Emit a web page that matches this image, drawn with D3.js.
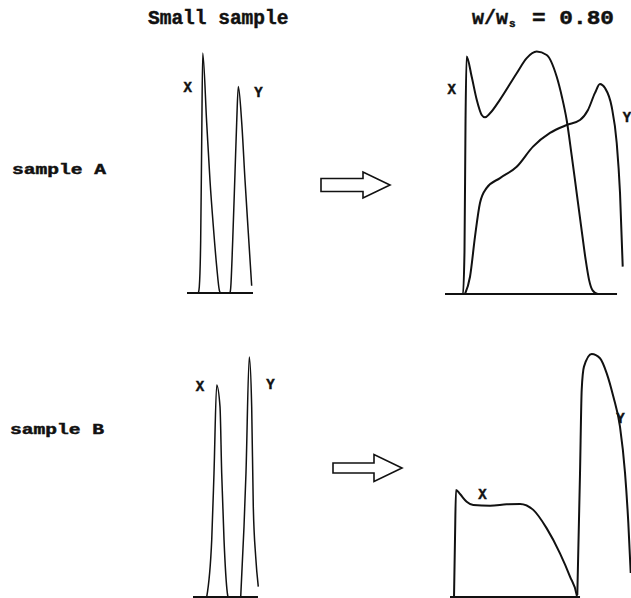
<!DOCTYPE html>
<html>
<head>
<meta charset="utf-8">
<script src="https://cdn.jsdelivr.net/npm/d3@7"></script>
<style>
  html, body { margin: 0; padding: 0; background: #fff; }
  svg { display: block; }
  .mono { font-family: "Courier New", "Liberation Mono", monospace; font-weight: bold; fill: #111; stroke: #111; stroke-width: 0.45; }
</style>
</head>
<body>
<svg id="chart" width="631" height="598"></svg>
<script>
// Elution profiles: [time, detector signal (% of panel full scale)]
const smallA_X = [[1.9,0],[2.05,2.6],[2.28,22],[2.45,63],[2.62,100],[3.28,71],[3.83,47],[4.38,28],[4.95,11],[5.4,1],[5.6,0]];
const smallA_Y = [[7.17,0],[7.28,2],[7.62,22],[8.0,50],[8.28,71],[8.55,86],[9.12,71],[9.67,47],[10.22,25],[10.78,3]];

const largeA_X = [[0,0],[3,0],[3.25,18],[3.42,72],[3.6,99],[4.45,90.5],[5.28,81],[6.12,74.6],[6.67,73.6],[7.5,75.3],[9.17,81],[11.95,92],[13.62,98.3],[15.28,101],[16.95,99.6],[18.62,90.5],[19.5,82],[20.28,72.5],[21.1,58],[21.9,43],[22.7,28],[23.4,15],[24.0,6],[24.6,1.5],[25.5,0],[28.67,0]];
const largeA_Y = [[3.33,0],[4.17,7.2],[5,23.9],[5.83,37.9],[6.95,44.2],[9.17,48.3],[11.95,53],[14.67,61.4],[17.5,67.1],[20.28,70.4],[22.5,72.5],[23.83,76.7],[25,83.8],[25.83,87.5],[26.67,85.8],[27.78,78],[28.62,62.9],[29.17,42.1],[29.62,11.4]];

const smallB_X = [[2.28,0],[3.12,23.8],[3.5,51.7],[3.95,88.3],[4.5,79.3],[4.78,51.7],[5.17,23.8],[5.72,1.7],[5.83,0]];
const smallB_Y = [[7.95,0],[8.5,29.3],[8.83,51.7],[9.38,100],[9.78,79.3],[10.05,37.6],[10.45,16.8],[10.88,4.3]];

const largeB_X = [[0.67,0],[0.83,23.8],[1.0,44.6],[1.67,42.9],[2.78,39.7],[3.88,38.3],[6.67,38],[9.45,38.6],[11.67,38.8],[13.88,36.3],[16.12,28.6],[18.33,18.2],[20,8.5],[21.12,0.8],[21.17,0]];
const largeB_Y = [[21.22,0.8],[21.67,51.7],[21.95,86.3],[22.33,96],[23.62,101.3],[25,99.5],[26.12,93.2],[27.22,83.5],[28.33,71],[29.17,51.7],[29.72,30.8],[30.12,10]];

// Baseline extent (time) of each trace
const baselines = { smallA: [0, 11], largeA: [0, 28.67], smallB: [0, 10.83], largeB: [0, 21.67] };

// Column titles and row labels
const titleLeft = "Small sample";
const titleRight = ["w/w", "s", "= 0.80"];
const rowLabels = ["sample A", "sample B"];
const peakNames = ["X", "Y"];

const svg = d3.select("#chart");

// Panel layout
const panels = [
  { key: "smallA", xr: [187, 253], xd: [0, 11], yr: [293, 53], series: [smallA_X, smallA_Y], sw: 1.5,
    labels: [{ n: 0, x: 187.7, y: 92 }, { n: 1, x: 258.5, y: 97 }] },
  { key: "largeA", xr: [445, 625], xd: [0, 30], yr: [294, 54], series: [largeA_X, largeA_Y], sw: 2,
    labels: [{ n: 0, x: 451.7, y: 94 }, { n: 1, x: 627, y: 122 }] },
  { key: "smallB", xr: [193, 259], xd: [0, 11], yr: [597, 357], series: [smallB_X, smallB_Y], sw: 1.5,
    labels: [{ n: 0, x: 200, y: 391 }, { n: 1, x: 270.5, y: 389 }] },
  { key: "largeB", xr: [450, 630], xd: [0, 30], yr: [597, 357], series: [largeB_X, largeB_Y], sw: 2,
    labels: [{ n: 0, x: 482.5, y: 499 }, { n: 1, x: 620.5, y: 423 }] }
];

panels.forEach(p => {
  const x = d3.scaleLinear().domain(p.xd).range(p.xr);
  const y = d3.scaleLinear().domain([0, 100]).range(p.yr);
  const line = d3.line().x(d => x(d[0])).y(d => y(d[1])).curve(d3.curveMonotoneX);
  const g = svg.append("g");

  // baseline
  g.append("path")
    .attr("d", line(baselines[p.key].map(t => [t, 0])))
    .attr("fill", "none").attr("stroke", "#111").attr("stroke-width", 1.8);

  p.series.forEach(s => {
    g.append("path")
      .attr("d", line(s))
      .attr("fill", "none")
      .attr("stroke", "#111")
      .attr("stroke-width", p.sw)
      .attr("stroke-linejoin", "round");
  });

  p.labels.forEach(l => {
    g.append("text").attr("class", "mono")
      .attr("x", l.x).attr("y", l.y)
      .attr("text-anchor", "middle")
      .attr("font-size", 14)
      .text(peakNames[l.n]);
  });
});

// Column titles
svg.append("text").attr("class", "mono")
  .attr("x", 148).attr("y", 24).attr("font-size", 19.5)
  .text(titleLeft);

const tr = svg.append("text").attr("class", "mono").attr("y", 24).attr("font-size", 20);
tr.append("tspan").attr("x", 472).text(titleRight[0]);
tr.append("tspan").attr("x", 509).attr("dy", 3).attr("font-size", 11).text(titleRight[1]);
tr.append("tspan").attr("x", 532).attr("dy", -3)
  .attr("textLength", 82).attr("lengthAdjust", "spacingAndGlyphs").text(titleRight[2]);

// Row labels
[[12, 174], [10, 434]].forEach((pos, i) => {
  svg.append("text").attr("class", "mono")
    .attr("x", pos[0]).attr("y", pos[1]).attr("font-size", 14)
    .attr("textLength", 94).attr("lengthAdjust", "spacingAndGlyphs")
    .text(rowLabels[i]);
});

// Block arrows between columns
function blockArrow(x0, cy, bodyLen, tipX, bodyHalf, headHalf) {
  const xb = x0 + bodyLen;
  const pts = [[x0, cy - bodyHalf], [xb, cy - bodyHalf], [xb, cy - headHalf], [tipX, cy],
               [xb, cy + headHalf], [xb, cy + bodyHalf], [x0, cy + bodyHalf]];
  svg.append("path")
    .attr("d", d3.line()(pts) + "Z")
    .attr("fill", "#fff").attr("stroke", "#111").attr("stroke-width", 1.6)
    .attr("stroke-linejoin", "miter");
}
blockArrow(321, 185, 42, 390, 6.5, 13);
blockArrow(333, 468, 41, 402, 5, 13.5);
</script>
</body>
</html>
